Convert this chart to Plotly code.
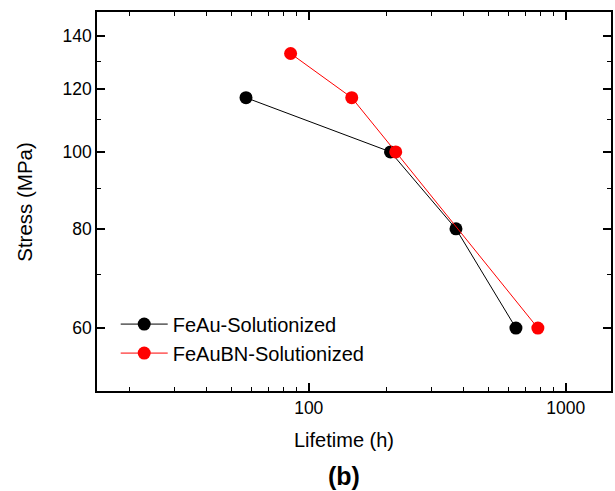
import plotly.graph_objects as go
import math

# Data
feau_lifetime = [57, 208, 374, 640]
feau_stress = [117, 100, 80, 60]
feaubn_lifetime = [85, 147, 218, 779]
feaubn_stress = [133, 117, 100, 60]

x_tickvals = [100, 1000]
x_minor = [20, 30, 40, 50, 60, 70, 80, 90, 200, 300, 400, 500, 600, 700, 800, 900]
y_tickvals = [60, 80, 100, 120, 140]
y_minor = [70, 90, 110, 130]

FONT = "Arial, 'Liberation Sans', sans-serif"

fig = go.Figure()
fig.add_trace(go.Scatter(
    x=feau_lifetime, y=feau_stress, mode="lines+markers", name="FeAu-Solutionized",
    line=dict(color="black", width=1), marker=dict(color="black", size=13)))
fig.add_trace(go.Scatter(
    x=feaubn_lifetime, y=feaubn_stress, mode="lines+markers", name="FeAuBN-Solutionized",
    line=dict(color="#ff0000", width=1), marker=dict(color="#ff0000", size=13)))

axis_common = dict(
    showgrid=False, zeroline=False, showline=True, linecolor="black", linewidth=1.5,
    mirror="allticks", ticks="inside", ticklen=8, tickwidth=1.5, tickcolor="black",
    tickfont=dict(family=FONT, size=17.5, color="black"),
)

fig.update_xaxes(
    type="log", range=[math.log10(15), math.log10(1500)],
    tickmode="array", tickvals=x_tickvals, ticktext=[str(v) for v in x_tickvals],
    minor=dict(tickmode="array", tickvals=x_minor, ticks="inside", ticklen=4,
               tickwidth=1.2, tickcolor="black"),
    **axis_common)
fig.update_yaxes(
    type="log", range=[math.log10(50), math.log10(150)],
    tickmode="array", tickvals=y_tickvals, ticktext=[str(v) for v in y_tickvals],
    minor=dict(tickmode="array", tickvals=y_minor, ticks="inside", ticklen=4,
               tickwidth=1.2, tickcolor="black"),
    **axis_common)

fig.add_annotation(text="Lifetime (h)", xref="paper", yref="paper", x=0.4806, y=-0.1293,
                   showarrow=False, font=dict(family=FONT, size=20, color="black"),
                   xanchor="center", yanchor="middle")
fig.add_annotation(text="Stress (MPa)", xref="paper", yref="paper", x=-0.1415, y=0.5,
                   textangle=-90, showarrow=False,
                   font=dict(family=FONT, size=20.5, color="black"),
                   xanchor="center", yanchor="middle")
fig.add_annotation(text="<b>(b)</b>", xref="paper", yref="paper", x=0.4806, y=-0.224,
                   showarrow=False, font=dict(family=FONT, size=25, color="black"),
                   xanchor="center", yanchor="middle")

fig.update_layout(
    width=615, height=491,
    margin=dict(l=97, r=2, t=12, b=100),
    paper_bgcolor="white", plot_bgcolor="white",
    showlegend=True,
    legend=dict(x=0.0364, y=0.228, xanchor="left", yanchor="top",
                font=dict(family=FONT, size=20, color="black"),
                bgcolor="rgba(0,0,0,0)", tracegroupgap=0, itemwidth=47),
)

fig.write_html(
    "out.html",
    config={"displayModeBar": False},
    post_script="document.body.style.margin='0';document.body.style.overflow='hidden';",
)
